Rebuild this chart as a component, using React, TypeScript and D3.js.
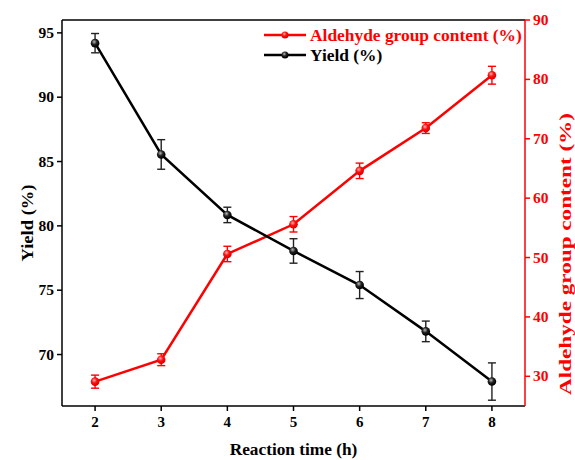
import React from "react";
import * as d3 from "d3";

// reaction time (h)
const times = [2, 3, 4, 5, 6, 7, 8];
// yield (%), left axis
const yieldVals = [94.2, 85.55, 80.85, 78.05, 75.4, 71.8, 67.9];
const yieldErr = [0.75, 1.15, 0.6, 0.95, 1.05, 0.8, 1.45];
// aldehyde group content (%), right axis
const aldVals = [29.1, 32.8, 50.6, 55.6, 64.6, 71.8, 80.7];
const aldErr = [1.1, 1.0, 1.3, 1.3, 1.3, 0.9, 1.5];

const xTicks = [2, 3, 4, 5, 6, 7, 8];
const yTicks = [70, 75, 80, 85, 90, 95];
const y2Ticks = [30, 40, 50, 60, 70, 80, 90];

const W = 575;
const H = 460;
const margin = { top: 20, right: 50, bottom: 54, left: 62 };
const FONT = "'Liberation Serif', 'Times New Roman', serif";
const RED = "#ff0000";

export default function App() {
  const x = d3.scaleLinear().domain([1.5, 8.5]).range([margin.left, W - margin.right]);
  const y = d3.scaleLinear().domain([66, 96]).range([H - margin.bottom, margin.top]);
  const y2 = d3.scaleLinear().domain([25, 90]).range([H - margin.bottom, margin.top]);

  const top = margin.top;
  const bottom = H - margin.bottom;
  const left = margin.left;
  const right = W - margin.right;

  const line = d3.line<number>();
  const yieldPath = line(times.map((t, i) => [x(t), y(yieldVals[i])]) as any);
  const aldPath = line(times.map((t, i) => [x(t), y2(aldVals[i])]) as any);

  const errBars = (vals: number[], errs: number[], sc: any, color: string) =>
    times.map((t, i) => {
      const cx = x(t);
      const y1 = sc(vals[i] + errs[i]);
      const y0 = sc(vals[i] - errs[i]);
      return (
        <g key={i} stroke={color} strokeWidth={1.4}>
          <line x1={cx} x2={cx} y1={y1} y2={y0} />
          <line x1={cx - 4} x2={cx + 4} y1={y1} y2={y1} />
          <line x1={cx - 4} x2={cx + 4} y1={y0} y2={y0} />
        </g>
      );
    });

  return (
    <svg width={W} height={H} style={{ position: "absolute", left: 0, top: 0, background: "#fff" }} fontFamily={FONT} fontWeight="bold">
      <defs>
        <radialGradient id="gBlack" cx="0.4" cy="0.35" r="0.6">
          <stop offset="0" stopColor="#bbbbbb" />
          <stop offset="0.5" stopColor="#222" />
          <stop offset="1" stopColor="#000" />
        </radialGradient>
        <radialGradient id="gRed" cx="0.4" cy="0.35" r="0.6">
          <stop offset="0" stopColor="#ffb0b0" />
          <stop offset="0.5" stopColor="#ff1010" />
          <stop offset="1" stopColor="#e00000" />
        </radialGradient>
      </defs>

      {/* frame */}
      <line x1={left} x2={right} y1={top} y2={top} stroke="#000" strokeWidth={1.5} />
      <line x1={left} x2={right} y1={bottom} y2={bottom} stroke="#000" strokeWidth={1.5} />
      <line x1={left} x2={left} y1={top} y2={bottom} stroke="#000" strokeWidth={1.5} />
      <line x1={right} x2={right} y1={top} y2={bottom} stroke={RED} strokeWidth={1.5} />

      {/* x axis */}
      {xTicks.map((t) => (
        <g key={t}>
          <line x1={x(t)} x2={x(t)} y1={bottom} y2={bottom + 5} stroke="#000" strokeWidth={1.5} />
          <text x={x(t)} y={bottom + 21} textAnchor="middle" fontSize={15}>{t}</text>
        </g>
      ))}
      <text x={(left + right) / 2} y={455} textAnchor="middle" fontSize={17.3}>Reaction time (h)</text>

      {/* left axis */}
      {yTicks.map((t) => (
        <g key={t}>
          <line x1={left - 5} x2={left} y1={y(t)} y2={y(t)} stroke="#000" strokeWidth={1.5} />
          <text x={left - 8} y={y(t) + 5} textAnchor="end" fontSize={15.5}>{t}</text>
        </g>
      ))}
      <text transform={`translate(33,223) rotate(-90)`} textAnchor="middle" fontSize={17.5}
        textLength={77} lengthAdjust="spacingAndGlyphs">Yield (%)</text>

      {/* right axis */}
      {y2Ticks.map((t) => (
        <g key={t} fill={RED}>
          <line x1={right} x2={right + 5} y1={y2(t)} y2={y2(t)} stroke={RED} strokeWidth={1.5} />
          <text x={right + 8} y={y2(t) + 5} textAnchor="start" fontSize={15.5}>{t}</text>
        </g>
      ))}
      <text transform={`translate(571,254) rotate(-90)`} textAnchor="middle" fontSize={17} fill={RED}
        textLength={282} lengthAdjust="spacingAndGlyphs">Aldehyde group content (%)</text>

      {/* series */}
      <path d={aldPath || ""} fill="none" stroke={RED} strokeWidth={2.5} />
      <path d={yieldPath || ""} fill="none" stroke="#000" strokeWidth={2.5} />
      {errBars(aldVals, aldErr, y2, RED)}
      {errBars(yieldVals, yieldErr, y, "#222")}
      {times.map((t, i) => (
        <circle key={"a" + i} cx={x(t)} cy={y2(aldVals[i])} r={4.3} fill="url(#gRed)" />
      ))}
      {times.map((t, i) => (
        <circle key={"y" + i} cx={x(t)} cy={y(yieldVals[i])} r={4.3} fill="url(#gBlack)" />
      ))}

      {/* legend */}
      <g>
        <line x1={264} x2={306} y1={35} y2={35} stroke={RED} strokeWidth={2.5} />
        <circle cx={285} cy={35} r={3.5} fill="url(#gRed)" />
        <text x={310} y={40.5} fontSize={17.4} fill={RED}>Aldehyde group content (%)</text>
        <line x1={264} x2={306} y1={55} y2={55} stroke="#000" strokeWidth={2.5} />
        <circle cx={285} cy={55} r={3.5} fill="url(#gBlack)" />
        <text x={310} y={60.5} fontSize={17.4} fill="#000">Yield (%)</text>
      </g>
    </svg>
  );
}
